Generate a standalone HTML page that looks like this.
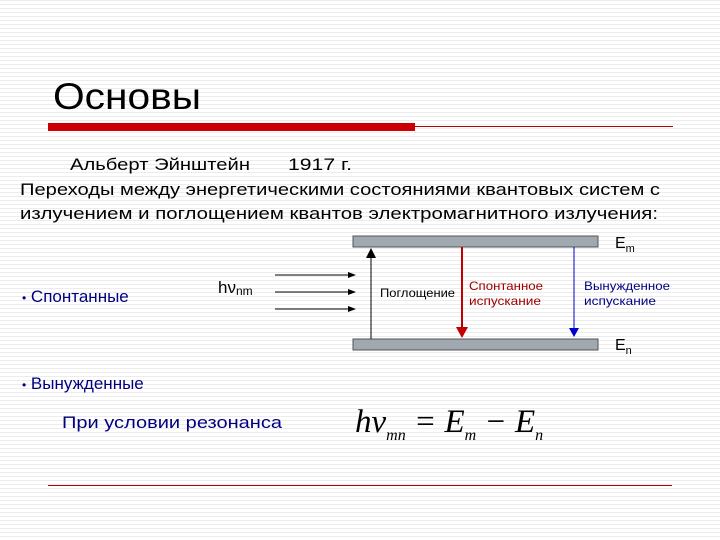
<!DOCTYPE html>
<html><head><meta charset="utf-8"><style>
html,body{margin:0;padding:0;background:#fff;width:720px;height:540px;overflow:hidden}
svg{display:block}
.s{font-family:"Liberation Sans","DejaVu Sans",sans-serif}
</style></head><body>
<svg width="720" height="540" viewBox="0 0 720 540" xmlns="http://www.w3.org/2000/svg">
<defs>
<pattern id="st" width="4" height="4" patternUnits="userSpaceOnUse"><rect width="4" height="4" fill="#fff"/><rect width="4" height="1" fill="#ececec"/></pattern>
</defs>
<rect width="720" height="540" fill="url(#st)"/>
<g class="s">
<text x="53" y="109" font-size="37" fill="#000" textLength="148" lengthAdjust="spacingAndGlyphs">Основы</text>
<text x="70" y="170" font-size="17" textLength="180" lengthAdjust="spacingAndGlyphs">Альберт Эйнштейн</text>
<text x="288" y="170" font-size="17" textLength="64" lengthAdjust="spacingAndGlyphs">1917 г.</text>
<text x="20" y="195" font-size="17" textLength="640" lengthAdjust="spacingAndGlyphs">Переходы между энергетическими состояниями квантовых систем с</text>
<text x="20" y="219" font-size="17" textLength="638" lengthAdjust="spacingAndGlyphs">излучением и поглощением квантов электромагнитного излучения:</text>
<text x="615" y="248" font-size="16">E<tspan font-size="11" dy="4">m</tspan></text>
<text x="615" y="350" font-size="16">E<tspan font-size="11" dy="4">n</tspan></text>
<text x="218" y="293" font-size="17">hν<tspan font-size="12" dy="2">nm</tspan></text>
<text x="380" y="297" font-size="12" textLength="75" lengthAdjust="spacingAndGlyphs">Поглощение</text>
<text x="469" y="290" font-size="12" fill="#a00000" textLength="74" lengthAdjust="spacingAndGlyphs">Спонтанное</text>
<text x="469" y="305" font-size="12" fill="#a00000" textLength="72" lengthAdjust="spacingAndGlyphs">испускание</text>
<text x="584" y="290" font-size="12" fill="#000080" textLength="86" lengthAdjust="spacingAndGlyphs">Вынужденное</text>
<text x="584" y="305" font-size="12" fill="#000080" textLength="72" lengthAdjust="spacingAndGlyphs">испускание</text>
<text x="22" y="302" font-size="17" fill="#000080"><tspan font-size="12">•</tspan> Спонтанные</text>
<text x="22" y="389" font-size="17" fill="#000080"><tspan font-size="12">•</tspan> Вынужденные</text>
<text x="62" y="428" font-size="17" fill="#000080" textLength="220" lengthAdjust="spacingAndGlyphs">При условии резонанса</text>
</g>
<rect x="48" y="123" width="367" height="8" fill="#cc0000"/>
<line x1="415" y1="126.5" x2="673" y2="126.5" stroke="#a00" stroke-width="1"/>
<rect x="353" y="236" width="245" height="11" fill="#a0a8b0" stroke="#555" stroke-width="1"/>
<rect x="353" y="339" width="245" height="11" fill="#a0a8b0" stroke="#555" stroke-width="1"/>
<line x1="371" y1="339" x2="371" y2="258" stroke="#000" stroke-width="1"/>
<polygon points="371,248 366,258 376,258" fill="#000"/>
<line x1="462" y1="247" x2="462" y2="328" stroke="#c00000" stroke-width="2"/>
<polygon points="462,338 456,327 468,327" fill="#c00000"/>
<line x1="574" y1="247" x2="574" y2="328" stroke="#0000cc" stroke-width="1"/>
<polygon points="574,337 569,328 579,328" fill="#0000cc"/>
<g stroke="#000" stroke-width="1">
<line x1="275" y1="275" x2="350" y2="275"/><line x1="275" y1="292" x2="350" y2="292"/><line x1="275" y1="309" x2="350" y2="309"/>
</g>
<g fill="#000"><polygon points="356,275 348,272 348,278"/><polygon points="356,292 348,289 348,295"/><polygon points="356,309 348,306 348,312"/></g>
<text x="355" y="432" style="font-family:'Liberation Serif',serif;font-style:italic" font-size="33">hν<tspan font-size="16" dy="8">mn</tspan><tspan dy="-8"> = E</tspan><tspan font-size="16" dy="8">m</tspan><tspan dy="-8"> − E</tspan><tspan font-size="16" dy="8">n</tspan></text>
<line x1="48" y1="485.5" x2="672" y2="485.5" stroke="#c00000" stroke-width="1"/>
</svg>
</body></html>
